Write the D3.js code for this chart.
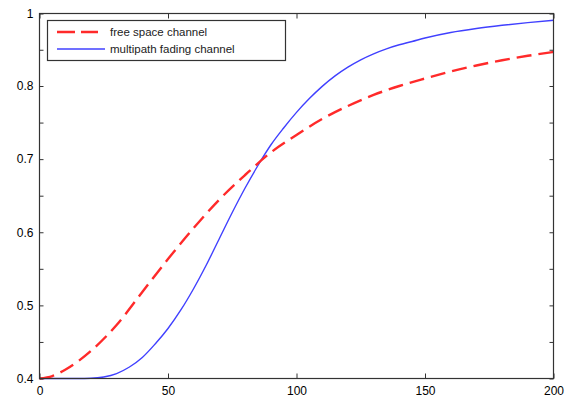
<!DOCTYPE html>
<html><head><meta charset="utf-8">
<script src="https://cdn.jsdelivr.net/npm/d3@7"></script>
<style>body{margin:0;background:#fff}svg{display:block}text{font-family:"Liberation Sans",Arial,sans-serif}</style>
</head><body><svg id="c" width="571" height="401"></svg>
<script>
const seriesNames = ["free space channel", "multipath fading channel"];
const xFree = [0,5,10,20,30,40,50,60,70,80,90,100,110,120,130,140,150,160,170,180,190,200];
const yFree = [0.4,0.4034,0.412,0.4377,0.4732,0.5183,0.5634,0.6058,0.6448,0.6783,0.7091,0.733,0.7549,0.7727,0.7878,0.8,0.8207,0.84,0.8566,0.8709,0.8833,0.8938];
const xFading = [0,5,10,15,20,25,30,35,40,45,50,55,60,65,70,75,80,85,90,95,100,105,110,115,120,125,130,135,140,145,150,160,170,180,190,200];
const yFading = [0.4,0.4,0.4,0.4,0.4003,0.4021,0.4068,0.4157,0.4287,0.4472,0.4684,0.4937,0.5231,0.5559,0.5915,0.627,0.6605,0.6913,0.7193,0.7426,0.7639,0.7828,0.7995,0.8279,0.8521,0.8723,0.8888,0.9026,0.9137,0.9228,0.9324,0.9476,0.9586,0.9674,0.9749,0.9812];
const xTicks = [0,50,100,150,200];
const xTickLabels = ["0","50","100","150","200"];
const yTicks = [0.4,0.45,0.5,0.55,0.6,0.65,0.7,0.75,0.8,0.9,1];
const yTickLabels = ["0.4","","0.5","","0.6","","0.7","","0.8","","1"];

const svg = d3.select("#c");
const L=39.5, R=553.5, T=13.5, B=378.5;
const x = d3.scaleLinear().domain([0,200]).range([L,R]);
const y = d3.scaleLinear().domain([0.4,0.8,1]).range([B,86,T]);

const axisColor="#333";
const line = d3.line().x(d=>x(d[0])).y(d=>y(d[1])).curve(d3.curveMonotoneX);
svg.append("path").datum(xFading.map((v,i)=>[v,yFading[i]])).attr("d",line)
  .attr("fill","none").attr("stroke","#4040ff").attr("stroke-width",1.4);
svg.append("path").datum(xFree.map((v,i)=>[v,yFree[i]])).attr("d",line)
  .attr("fill","none").attr("stroke","#ff2a2a").attr("stroke-width",2.4).attr("stroke-dasharray","15,7");

const gB = svg.append("g").attr("transform",`translate(0,${B})`)
  .call(d3.axisBottom(x).tickValues(xTicks).tickSize(-5).tickPadding(8).tickFormat((d,i)=>xTickLabels[i]));
const gT = svg.append("g").attr("transform",`translate(0,${T})`)
  .call(d3.axisTop(x).tickValues(xTicks).tickSize(-5).tickFormat(""));
const gL = svg.append("g").attr("transform",`translate(${L},0)`)
  .call(d3.axisLeft(y).tickValues(yTicks).tickSize(-4).tickPadding(6).tickFormat((d,i)=>yTickLabels[i]));
const gR = svg.append("g").attr("transform",`translate(${R},0)`)
  .call(d3.axisRight(y).tickValues(yTicks).tickSize(-4).tickFormat(""));
[gB,gT,gL,gR].forEach(g=>{
  g.select(".domain").remove();
  g.selectAll("line").attr("stroke",axisColor);
  g.selectAll("text").attr("fill","#000").style("font-size","12px").style("font-family","'Liberation Sans',Arial,sans-serif");
});
svg.append("rect").attr("x",L).attr("y",T).attr("width",R-L).attr("height",B-T)
  .attr("fill","none").attr("stroke",axisColor).attr("stroke-width",1.2);

const lg = svg.append("g");
lg.append("rect").attr("x",47.5).attr("y",20.5).attr("width",238).attr("height",40)
  .attr("fill","#fff").attr("stroke",axisColor).attr("stroke-width",1.2);
const colors=["#ff2a2a","#4040ff"], widths=[2.4,1.4], dashes=["18,6",null], ends=[98,105];
seriesNames.forEach((n,i)=>{
  const yy = 32 + i*17;
  lg.append("line").attr("x1",57).attr("x2",ends[i]).attr("y1",yy).attr("y2",yy)
    .attr("stroke",colors[i]).attr("stroke-width",widths[i]).attr("stroke-dasharray",dashes[i]);
  lg.append("text").attr("x",110).attr("y",yy+4).text(n).style("font-size","11.5px").attr("fill","#222");
});
</script></body></html>
